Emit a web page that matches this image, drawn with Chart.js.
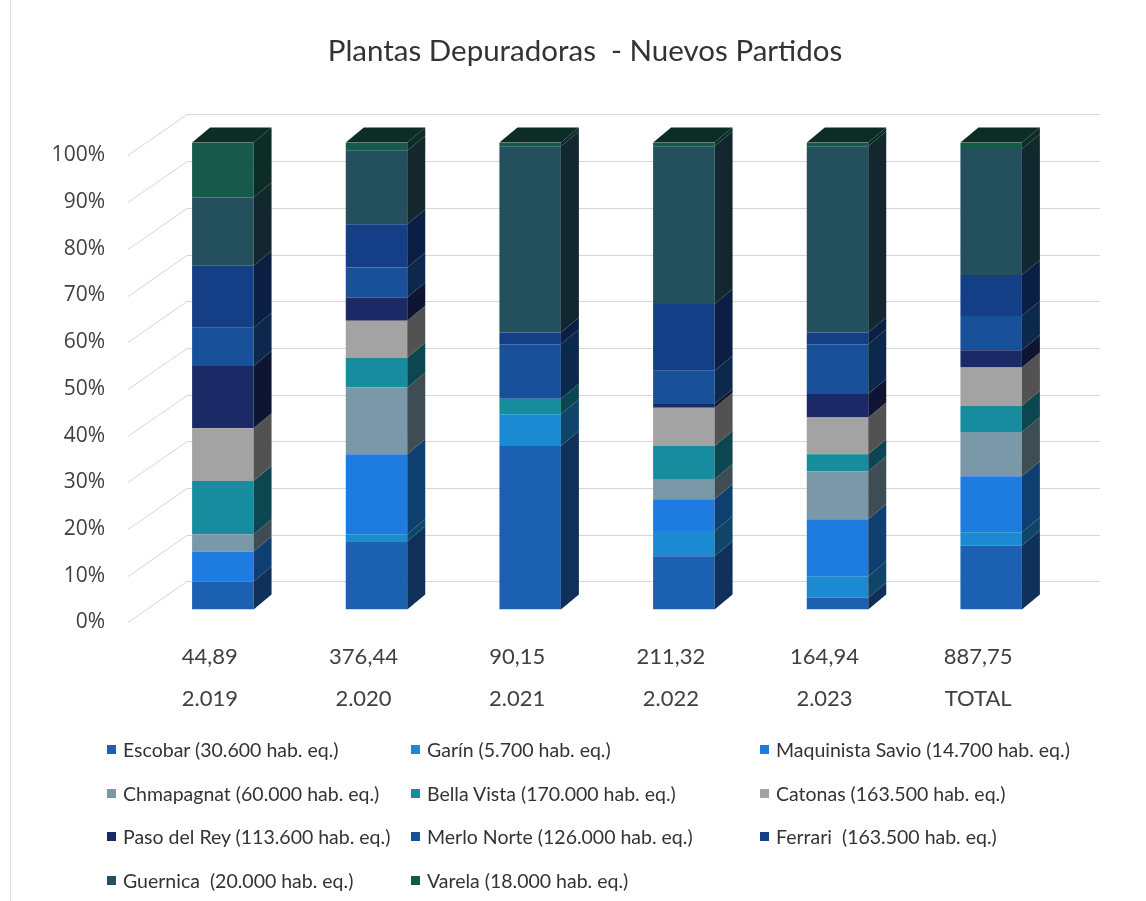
<!DOCTYPE html>
<html>
<head>
<meta charset="utf-8">
<title>Plantas Depuradoras - Nuevos Partidos</title>
<script src="https://cdn.jsdelivr.net/npm/chart.js@4.4.1/dist/chart.umd.min.js"></script>
<style>
  html, body { margin: 0; padding: 0; background: #fff; }
  #wrap { position: relative; width: 1146px; height: 901px; overflow: hidden; }
  #frame { position: absolute; left: 10px; top: 0; bottom: 0; border-left: 1px solid #dcdcdc; }
  #legend {
    position: absolute; left: 107px; top: 728px;
    display: grid; grid-template-columns: 304px 349px 330px;
    font: 19.5px Lato, sans-serif; color: #333;
  }
  .item { display: flex; align-items: center; height: 43.5px; white-space: pre; }
  .box { width: 9px; height: 9px; margin-right: 7px; flex: none; }
</style>
</head>
<body>
<div id="wrap">
  <div id="frame"></div>
  <canvas id="chart" width="1146" height="901"></canvas>
  <div id="legend"></div>
</div>
<script>
// years (x axis) and the total shown above each year
const years = ['2.019', '2.020', '2.021', '2.022', '2.023', 'TOTAL'];
const totals = [44.89, 376.44, 90.15, 211.32, 164.94, 887.75];

// share of each plant per year, in %
const escobar     = [6.0, 14.6, 35.0, 11.4,  2.5, 13.7];
const garin       = [0.0,  1.5,  6.8,  5.4,  4.6,  2.8];
const maquinista  = [6.4, 17.1,  0.0,  6.8, 12.2, 12.0];
const chmapagnat  = [3.7, 14.3,  0.0,  4.3, 10.3,  9.5];
const bellaVista  = [11.4, 6.4,  3.3,  7.1,  3.6,  5.6];
const catonas     = [11.3, 7.9,  0.0,  8.2,  7.9,  8.2];
const pasoDelRey  = [13.3, 5.0,  0.0,  0.8,  5.0,  3.7];
const merloNorte  = [8.2,  6.4, 11.7,  7.1, 10.7,  7.3];
const ferrari     = [13.3, 9.3,  2.5, 14.3,  2.5,  8.8];
const guernica    = [14.6, 15.7, 39.9, 33.8, 39.9, 27.0];
const varela      = [11.8, 1.8,  0.8,  0.8,  0.8,  1.4];

const seriesNames = [
  'Escobar (30.600 hab. eq.)', 'Garín (5.700 hab. eq.)', 'Maquinista Savio (14.700 hab. eq.)',
  'Chmapagnat (60.000 hab. eq.)', 'Bella Vista (170.000 hab. eq.)', 'Catonas (163.500 hab. eq.)',
  'Paso del Rey (113.600 hab. eq.)', 'Merlo Norte (126.000 hab. eq.)', 'Ferrari  (163.500 hab. eq.)',
  'Guernica  (20.000 hab. eq.)', 'Varela (18.000 hab. eq.)'
];
const seriesData = [escobar, garin, maquinista, chmapagnat, bellaVista, catonas,
  pasoDelRey, merloNorte, ferrari, guernica, varela];
const seriesColors = ['#1c60b2', '#1b8ad2', '#1e7ce0', '#7b98a8', '#178c9f', '#a3a3a3',
  '#1b2a66', '#18519a', '#143e86', '#244f5c', '#17594a'];

const fmt = v => v.toFixed(2).replace('.', ',');

function shade(hex, f) {
  const n = parseInt(hex.slice(1), 16);
  const r = Math.round(((n >> 16) & 255) * f);
  const g = Math.round(((n >> 8) & 255) * f);
  const b = Math.round((n & 255) * f);
  return `rgb(${r},${g},${b})`;
}

// depth of the boxes and of the back wall, in px
const DX = 18, DY = 15;
const WALL_DX = 41, WALL_DY = 28;
const FRONT_DX = 18, FRONT_DY = 13;
const SIDE = 0.5;

const box3d = {
  id: 'box3d',
  afterLayout(chart) {
    // let the % labels hang out to the left of the narrow y axis box
    chart.scales.y.left = 12;
  },
  beforeDatasetsDraw(chart) {
    const { ctx, chartArea: a, scales: { y } } = chart;
    ctx.save();
    ctx.strokeStyle = '#d6d6d6';
    ctx.lineWidth = 1;
    y.ticks.forEach(t => {
      const py = Math.round(y.getPixelForValue(t.value)) + 0.5;
      ctx.beginPath();
      ctx.moveTo(a.left - FRONT_DX, py + FRONT_DY);
      ctx.lineTo(a.left + WALL_DX, py - WALL_DY);
      ctx.lineTo(a.right + 32, py - WALL_DY);
      ctx.stroke();
    });
    ctx.restore();
  },
  afterDatasetsDraw(chart) {
    const ctx = chart.ctx;
    ctx.save();
    chart.data.labels.forEach((_, i) => {
      let top = null;
      chart.data.datasets.forEach((ds, d) => {
        if (!ds.data[i]) return;
        const bar = chart.getDatasetMeta(d).data[i];
        const { x, y, base, width } = bar.getProps(['x', 'y', 'base', 'width'], true);
        const r = x + width / 2;
        ctx.fillStyle = shade(ds.backgroundColor, SIDE);
        ctx.beginPath();
        ctx.moveTo(r, y);
        ctx.lineTo(r + DX, y - DY);
        ctx.lineTo(r + DX, base - DY);
        ctx.lineTo(r, base);
        ctx.closePath();
        ctx.fill();
        top = { x, y, width, color: ds.backgroundColor };
      });
      if (top) {
        const l = top.x - top.width / 2, r = top.x + top.width / 2;
        ctx.fillStyle = shade(top.color, SIDE);
        ctx.beginPath();
        ctx.moveTo(l, top.y);
        ctx.lineTo(l + DX, top.y - DY);
        ctx.lineTo(r + DX, top.y - DY);
        ctx.lineTo(r, top.y);
        ctx.closePath();
        ctx.fill();
      }
    });
    ctx.restore();
  }
};

const chart = new Chart(document.getElementById('chart'), {
  type: 'bar',
  data: {
    labels: years.map((y, i) => [fmt(totals[i]), y]),
    datasets: seriesData.map((data, i) => ({
      label: seriesNames[i],
      data: data,
      backgroundColor: seriesColors[i],
      borderWidth: 0,
      barPercentage: 0.4,
      categoryPercentage: 1
    }))
  },
  options: {
    responsive: false,
    animation: false,
    layout: { padding: { left: 102, right: 78, top: 0, bottom: 162 } },
    plugins: {
      legend: { display: false },
      tooltip: { enabled: false },
      title: {
        display: true,
        text: 'Plantas Depuradoras  - Nuevos Partidos',
        color: '#333',
        font: { family: 'Lato', size: 29.5, weight: 'normal' },
        padding: { top: 34, bottom: 73 }
      }
    },
    scales: {
      x: {
        stacked: true,
        grid: { display: false },
        border: { display: false },
        ticks: {
          color: '#404040',
          font: { family: 'Lato', size: 22, lineHeight: 1.9 },
          padding: 19,
          labelOffset: -13,
          maxRotation: 0
        }
      },
      y: {
        stacked: true,
        min: 0,
        max: 100,
        afterFit: s => { s.width = 44; },
        grid: { display: false, drawTicks: false },
        border: { display: false },
        ticks: {
          stepSize: 10,
          color: '#404040',
          font: { family: 'Open Sans', size: 21 },
          padding: 41,
          labelOffset: 13,
          callback: v => v + '%'
        }
      }
    }
  },
  plugins: [box3d]
});

// legend in three columns, built from the datasets
const legend = document.getElementById('legend');
chart.data.datasets.forEach(ds => {
  const item = document.createElement('div');
  item.className = 'item';
  const box = document.createElement('span');
  box.className = 'box';
  box.style.background = ds.backgroundColor;
  item.appendChild(box);
  item.appendChild(document.createTextNode(ds.label));
  legend.appendChild(item);
});
</script>
</body>
</html>
